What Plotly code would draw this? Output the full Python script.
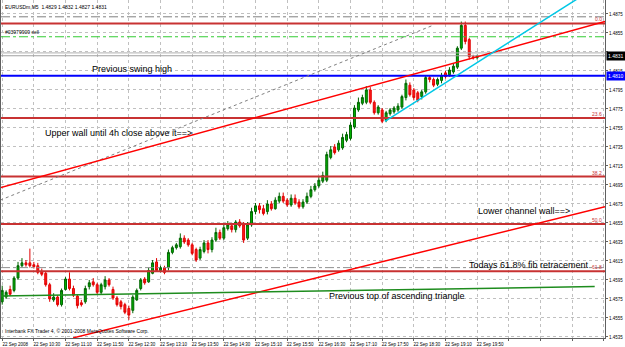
import plotly.graph_objects as go

# ---------------- data (EURUSDm M5, 22 Sep 2008) ----------------
bar_index = list(range(121))

open_ = [1.4572, 1.4577, 1.4585, 1.4584, 1.4597, 1.4610, 1.4613, 1.4613, 1.4611, 1.4610,
         1.4604, 1.4602, 1.4590, 1.4574, 1.4577, 1.4569, 1.4585, 1.4596, 1.4586, 1.4578,
         1.4571, 1.4572, 1.4588, 1.4593, 1.4590, 1.4582, 1.4588, 1.4595, 1.4585, 1.4576,
         1.4572, 1.4569, 1.4565, 1.4563, 1.4574, 1.4586, 1.4596, 1.4593, 1.4602, 1.4614,
         1.4605, 1.4608, 1.4608, 1.4624, 1.4629, 1.4630, 1.4639, 1.4637, 1.4632, 1.4627,
         1.4618, 1.4625, 1.4634, 1.4627, 1.4637, 1.4645, 1.4639, 1.4649, 1.4652, 1.4648,
         1.4656, 1.4653, 1.4639, 1.4653, 1.4667, 1.4673, 1.4670, 1.4667, 1.4675, 1.4670,
         1.4678, 1.4683, 1.4679, 1.4674, 1.4681, 1.4677, 1.4672, 1.4677, 1.4683, 1.4690,
         1.4694, 1.4699, 1.4700, 1.4724, 1.4735, 1.4732, 1.4734, 1.4742, 1.4744, 1.4756,
         1.4774, 1.4781, 1.4782, 1.4795, 1.4782, 1.4771, 1.4774, 1.4763, 1.4770, 1.4772,
         1.4774, 1.4777, 1.4787, 1.4800, 1.4795, 1.4792, 1.4788, 1.4793, 1.4808, 1.4806,
         1.4801, 1.4805, 1.4813, 1.4811, 1.4814, 1.4819, 1.4839, 1.4863, 1.4848, 1.4830,
         1.4829]
high = [1.4589, 1.4584, 1.4589, 1.4599, 1.4614, 1.4618, 1.4616, 1.4628, 1.4614, 1.4613,
        1.4607, 1.4604, 1.4592, 1.4581, 1.4579, 1.4586, 1.4598, 1.4603, 1.4589, 1.4580,
        1.4574, 1.4589, 1.4595, 1.4597, 1.4592, 1.4592, 1.4599, 1.4597, 1.4588, 1.4578,
        1.4574, 1.4571, 1.4568, 1.4579, 1.4586, 1.4597, 1.4598, 1.4608, 1.4616, 1.4618,
        1.4610, 1.4610, 1.4627, 1.4631, 1.4634, 1.4644, 1.4642, 1.4639, 1.4634, 1.4629,
        1.4630, 1.4637, 1.4637, 1.4640, 1.4650, 1.4648, 1.4653, 1.4657, 1.4655, 1.4658,
        1.4659, 1.4656, 1.4656, 1.4671, 1.4676, 1.4676, 1.4674, 1.4679, 1.4678, 1.4682,
        1.4687, 1.4687, 1.4681, 1.4685, 1.4685, 1.4680, 1.4680, 1.4687, 1.4694, 1.4697,
        1.4704, 1.4709, 1.4730, 1.4736, 1.4738, 1.4742, 1.4749, 1.4751, 1.4761, 1.4779,
        1.4787, 1.4790, 1.4799, 1.4798, 1.4784, 1.4779, 1.4776, 1.4773, 1.4776, 1.4778,
        1.4781, 1.4790, 1.4806, 1.4803, 1.4797, 1.4794, 1.4795, 1.4810, 1.4810, 1.4808,
        1.4808, 1.4813, 1.4815, 1.4819, 1.4823, 1.4841, 1.4867, 1.4867, 1.4850, 1.4832,
        1.4832]
low = [1.4569, 1.4575, 1.4578, 1.4582, 1.4595, 1.4608, 1.4609, 1.4608, 1.4607, 1.4601,
       1.4599, 1.4588, 1.4572, 1.4572, 1.4567, 1.4567, 1.4584, 1.4584, 1.4577, 1.4565,
       1.4567, 1.4570, 1.4585, 1.4588, 1.4580, 1.4580, 1.4585, 1.4588, 1.4574, 1.4567,
       1.4564, 1.4559, 1.4553, 1.4560, 1.4573, 1.4584, 1.4590, 1.4592, 1.4601, 1.4604,
       1.4603, 1.4601, 1.4605, 1.4622, 1.4627, 1.4628, 1.4633, 1.4630, 1.4621, 1.4614,
       1.4616, 1.4623, 1.4623, 1.4624, 1.4635, 1.4637, 1.4637, 1.4647, 1.4645, 1.4645,
       1.4650, 1.4634, 1.4637, 1.4651, 1.4664, 1.4665, 1.4663, 1.4664, 1.4668, 1.4669,
       1.4676, 1.4676, 1.4672, 1.4672, 1.4674, 1.4670, 1.4670, 1.4675, 1.4681, 1.4688,
       1.4692, 1.4697, 1.4698, 1.4722, 1.4727, 1.4730, 1.4732, 1.4740, 1.4742, 1.4754,
       1.4772, 1.4779, 1.4780, 1.4780, 1.4769, 1.4769, 1.4760, 1.4761, 1.4768, 1.4770,
       1.4772, 1.4775, 1.4784, 1.4788, 1.4784, 1.4782, 1.4785, 1.4791, 1.4803, 1.4798,
       1.4799, 1.4802, 1.4807, 1.4809, 1.4812, 1.4817, 1.4837, 1.4843, 1.4827, 1.4827,
       1.4827]
close = [1.4584, 1.4582, 1.4580, 1.4597, 1.4610, 1.4613, 1.4611, 1.4610, 1.4609, 1.4603,
         1.4601, 1.4590, 1.4575, 1.4577, 1.4569, 1.4584, 1.4596, 1.4586, 1.4579, 1.4568,
         1.4569, 1.4586, 1.4592, 1.4590, 1.4582, 1.4590, 1.4595, 1.4590, 1.4576, 1.4569,
         1.4567, 1.4561, 1.4558, 1.4577, 1.4584, 1.4595, 1.4592, 1.4605, 1.4613, 1.4605,
         1.4608, 1.4603, 1.4624, 1.4629, 1.4632, 1.4639, 1.4635, 1.4632, 1.4623, 1.4616,
         1.4627, 1.4634, 1.4627, 1.4637, 1.4645, 1.4639, 1.4650, 1.4653, 1.4648, 1.4656,
         1.4652, 1.4637, 1.4653, 1.4667, 1.4673, 1.4669, 1.4665, 1.4675, 1.4670, 1.4679,
         1.4683, 1.4678, 1.4674, 1.4681, 1.4676, 1.4672, 1.4677, 1.4683, 1.4690, 1.4694,
         1.4700, 1.4705, 1.4727, 1.4732, 1.4729, 1.4739, 1.4745, 1.4748, 1.4758, 1.4776,
         1.4782, 1.4787, 1.4795, 1.4782, 1.4771, 1.4777, 1.4762, 1.4771, 1.4774, 1.4776,
         1.4778, 1.4788, 1.4802, 1.4790, 1.4787, 1.4784, 1.4793, 1.4808, 1.4806, 1.4800,
         1.4806, 1.4810, 1.4809, 1.4816, 1.4820, 1.4839, 1.4863, 1.4846, 1.4830, 1.4829,
         1.4831]

time_tick_index = [0, 8, 16, 24, 32, 40, 48, 56, 64, 72, 80, 88, 96, 104, 112, 120, 128, 136, 144, 152]
time_tick_labels = ["22 Sep 2008", "22 Sep 10:30", "22 Sep 11:10", "22 Sep 11:50", "22 Sep 12:30",
                    "22 Sep 13:10", "22 Sep 13:50", "22 Sep 14:30", "22 Sep 15:10", "22 Sep 15:50",
                    "22 Sep 16:30", "22 Sep 17:10", "22 Sep 17:50", "22 Sep 18:30", "22 Sep 19:10",
                    "22 Sep 19:50", "", "", "", ""]
price_ticks = [1.4535, 1.4555, 1.4575, 1.4595, 1.4615, 1.4635, 1.4655, 1.4675, 1.4695,
               1.4715, 1.4735, 1.4755, 1.4775, 1.4795, 1.4815, 1.4835, 1.4855, 1.4875]
price_tick_labels = ["1.4535", "1.4555", "1.4575", "1.4595", "1.4615", "1.4635", "1.4655", "1.4675",
                     "1.4695", "1.4715", "1.4735", "1.4755", "1.4775", "1.4795", "1.4815", "", "1.4855", "1.4875"]

# Fibonacci retracement
fib_high = 1.4865
fib_low = 1.4443
fib_ratios = [0.0, 0.236, 0.382, 0.5, 0.618]
fib_labels = ["0.0", "23.6", "38.2", "50.0", "61.8"]

# trend lines (bar index, price)
upper_wall_x = [-0.5, 152.3]
upper_wall_y = [1.4692, 1.4867]
lower_wall_x = [17.9, 152.3]
lower_wall_y = [1.4534, 1.4672]
dotted_line_x = [-0.5, 108.8]
dotted_line_y = [1.4679, 1.4863]
cyan_line_x = [96.7, 151.0]
cyan_line_y = [1.4762, 1.4906]
triangle_top_x = [-0.5, 149.7]
triangle_top_y = [1.4578, 1.4588]

swing_high = 1.4810
order_price = 1.4851
top_dashdot = 1.4872
low_dashdot = 1.4608
bid_price = 1.4831
ask_price = 1.4834

X_RANGE = [-0.3, 152.3]
Y_RANGE = [1.45339, 1.48897]

FONT = "Arial, Liberation Sans, sans-serif"

fig = go.Figure()

fig.add_trace(go.Candlestick(
    x=bar_index, open=open_, high=high, low=low, close=close,
    increasing=dict(line=dict(color="#006400", width=1), fillcolor="#00b400"),
    decreasing=dict(line=dict(color="#e00000", width=1), fillcolor="#ff1a1a"),
    whiskerwidth=0, hoverinfo="skip", showlegend=False,
))

def hline(price, color, width, dash="solid"):
    fig.add_trace(go.Scatter(x=X_RANGE, y=[price, price], mode="lines",
                             line=dict(color=color, width=width, dash=dash),
                             hoverinfo="skip", showlegend=False))

def seg(xs, ys, color, width, dash="solid"):
    fig.add_trace(go.Scatter(x=xs, y=ys, mode="lines",
                             line=dict(color=color, width=width, dash=dash),
                             hoverinfo="skip", showlegend=False))

# horizontal helper lines
hline(top_dashdot, "#808080", 1, "dashdot")
hline(low_dashdot, "#909090", 1, "dashdot")
hline(order_price, "#33cc33", 1, "dashdot")
hline(bid_price, "#a0a0a0", 1)
hline(ask_price, "#b0b0b0", 1)

# fib levels
for r, lab in zip(fib_ratios, fib_labels):
    lvl = fib_high - r * (fib_high - fib_low)
    hline(lvl, "#c83232", 2)
    fig.add_annotation(x=1, xref="paper", xanchor="right", y=lvl, yref="y", yanchor="bottom",
                       text=lab, showarrow=False, font=dict(family=FONT, size=5, color="#c83232"),
                       xshift=-1, yshift=-1)

hline(swing_high, "#0000ff", 2)

seg(dotted_line_x, dotted_line_y, "#808080", 1, "dot")
seg(upper_wall_x, upper_wall_y, "#ff0000", 1.5)
seg(lower_wall_x, lower_wall_y, "#ff0000", 1.5)
seg(cyan_line_x, cyan_line_y, "#00c8e6", 1.5)
seg(triangle_top_x, triangle_top_y, "#1e8c1e", 1.5)

# text objects
texts = [
    ("Previous swing high", 22.2, 1.48171),
    ("Upper wall until 4h close above it==>", 10.4, 1.47497),
    ("Lower channel wall==>", 119.7, 1.46676),
    ("Todays 61.8% fib retracement", 117.4, 1.46108),
    ("Previous top of ascending triangle", 82.1, 1.45782),
]
for t, xx, yy in texts:
    fig.add_annotation(x=xx, y=yy, xref="x", yref="y", text=t, showarrow=False,
                       xanchor="left", yanchor="middle",
                       font=dict(family=FONT, size=9, color="#000000"))

fig.add_annotation(x=0, y=1, xref="paper", yref="paper", xanchor="left", yanchor="top",
                   text="EURUSDm,M5  1.4829 1.4832 1.4827 1.4831", showarrow=False,
                   font=dict(family=FONT, size=5, color="#000000"), xshift=2, yshift=-2)
fig.add_annotation(x=0, y=order_price, xref="paper", yref="y", xanchor="left", yanchor="bottom",
                   text="#03979909 sell", showarrow=False,
                   font=dict(family=FONT, size=5, color="#000000"), xshift=2)
fig.add_annotation(x=0, y=0, xref="paper", yref="paper", xanchor="left", yanchor="bottom",
                   text="Interbank FX Trader 4, \u00a9 2001-2008 MetaQuotes Software Corp.", showarrow=False,
                   font=dict(family=FONT, size=5, color="#000000"), xshift=2, yshift=2)

# price boxes on the right scale
fig.add_annotation(x=1, xref="paper", xanchor="left", y=bid_price, yref="y", yanchor="middle",
                   text="1.4831", showarrow=False, bgcolor="#000000", borderpad=1,
                   font=dict(family=FONT, size=5, color="#ffffff"), xshift=1)
fig.add_annotation(x=1, xref="paper", xanchor="left", y=swing_high, yref="y", yanchor="middle",
                   text="1.4810", showarrow=False, bgcolor="#0000ff", borderpad=1,
                   font=dict(family=FONT, size=5, color="#ffffff"), xshift=1)

fig.update_layout(
    width=625, height=347,
    margin=dict(l=1, r=20, t=0, b=9),
    paper_bgcolor="#ffffff", plot_bgcolor="#ffffff",
    showlegend=False,
    font=dict(family=FONT, size=5, color="#000000"),
)
fig.update_xaxes(
    range=X_RANGE, rangeslider_visible=False, tickmode="array",
    tickvals=time_tick_index, ticktext=time_tick_labels,
    showgrid=True, gridcolor="#c0c0c0", griddash="dot", gridwidth=1,
    showline=True, linecolor="#606060", linewidth=1,
    ticks="outside", ticklen=2, tickcolor="#606060",
    tickfont=dict(family=FONT, size=4.5, color="#000000"),
    ticklabelshift=13, zeroline=False,
)
fig.update_yaxes(
    range=Y_RANGE, side="right", tickmode="array",
    tickvals=price_ticks, ticktext=price_tick_labels,
    showgrid=True, gridcolor="#c0c0c0", griddash="dot", gridwidth=1,
    showline=True, mirror=True, linecolor="#606060", linewidth=1,
    ticks="outside", ticklen=2, tickcolor="#606060",
    tickfont=dict(family=FONT, size=4.5, color="#000000"),
    zeroline=False,
)

fig.write_html("out.html")
